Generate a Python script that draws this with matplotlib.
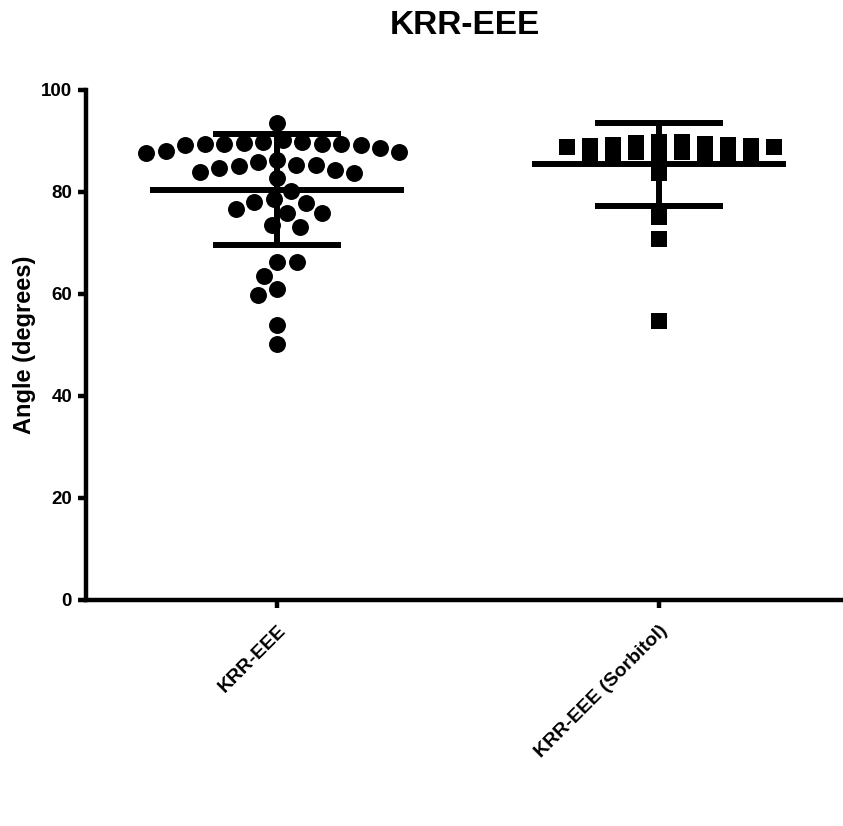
import numpy as np
import matplotlib
matplotlib.use("Agg")
import matplotlib.pyplot as plt

plt.rcParams['font.family'] = ['Liberation Sans', 'DejaVu Sans']

title = "KRR-EEE"
ylabel = "Angle (degrees)"
categories = ["KRR-EEE", "KRR-EEE (Sorbitol)"]
yticks = [0, 20, 40, 60, 80, 100]

krr_eee = [93.5,
           89.9, 89.7, 89.5, 89.5, 89.2, 89.2, 89.5, 89.5, 89.9, 90.1,
           88.1, 87.7, 87.8, 88.7,
           85.8, 85.2, 84.8, 84.0, 82.7, 83.8, 84.3, 85.0, 85.3, 86.3,
           80.2,
           77.9, 78.6, 78.0,
           75.9, 75.8, 76.7,
           73.5, 73.2,
           66.2, 66.2, 63.6,
           61.0, 59.9,
           54.0, 50.2]

krr_eee_sorb = [88.8, 89.8, 87.8, 89.5, 87.8, 89.3, 87.6, 89.3, 87.6, 88.8,
                83.7, 89.0, 85.8, 89.0, 87.6, 89.7, 87.6, 87.7, 89.9, 88.6,
                75.0, 70.8, 54.7]

W, H, DPI = 843, 826, 100
fig = plt.figure(figsize=(W / DPI, H / DPI), dpi=DPI)
left_px, right_px, top_px, bot_px = 86, 850, 90, 600
ax = fig.add_axes([left_px / W, 1 - bot_px / H, (right_px - left_px) / W, (bot_px - top_px) / H])
ax.set_xlim(-0.5, 1.5)
ax.set_ylim(0, 100)

px_per_unit = (bot_px - top_px) / 100.0
px_per_cat = (right_px - left_px) / 2.0


def swarm(vals, w, h, rect):
    """Greedy scatter layout in pixels; clash region is a w x h ellipse or rectangle."""
    vals = np.asarray(vals, float)
    order = np.argsort(-vals, kind="stable")
    placed = []
    offs = np.zeros(len(vals))
    grid = np.arange(-300, 300.5, 0.5)

    def clash(c, y, px, py):
        if rect:
            return abs(c - px) < w and abs(y - py) < h
        return ((c - px) / w) ** 2 + ((y - py) / h) ** 2 < 1

    for k, i in enumerate(order):
        y = vals[i] * px_per_unit
        sgn = 1 if k % 2 == 0 else -1
        cands = sorted(grid, key=lambda c: (abs(c), sgn * c))
        for c in cands:
            if not any(clash(c, y, px, py) for px, py in placed):
                break
        offs[i] = c
        placed.append((c, y))
    return offs / px_per_cat


groups = [krr_eee, krr_eee_sorb]
markers = ['o', 's']
layout = [(19.5, 18.0, False), (23.0, 6.5, True)]
msize = 12.2
for gi, (vals, m, (ww, hh, rr)) in enumerate(zip(groups, markers, layout)):
    xo = swarm(vals, ww, hh, rr)
    ax.plot(gi + xo, vals, linestyle='none', marker=m, markersize=msize,
            color='black', markeredgewidth=0, zorder=3)
    mean = np.mean(vals)
    sd = np.std(vals, ddof=1)
    lw = 4.3
    ax.plot([gi - 0.333, gi + 0.333], [mean, mean], color='black', lw=lw, solid_capstyle='butt', zorder=4)
    ax.plot([gi, gi], [mean - sd, mean + sd], color='black', lw=lw, solid_capstyle='butt', zorder=4)
    for v in (mean - sd, mean + sd):
        ax.plot([gi - 0.167, gi + 0.167], [v, v], color='black', lw=lw, solid_capstyle='butt', zorder=4)

for s in ('top', 'right'):
    ax.spines[s].set_visible(False)
for s in ('left', 'bottom'):
    ax.spines[s].set_linewidth(3.2)
    ax.spines[s].set_zorder(5)

ax.set_yticks(yticks)
ax.set_yticklabels([str(t) for t in yticks], fontsize=13.5, fontweight='bold')
ax.set_xticks([0, 1])
ax.set_xticklabels(categories, rotation=45, ha='right', rotation_mode='anchor',
                   fontsize=14, fontweight='bold')
ax.tick_params(axis='both', direction='out', length=6, width=3.2)
ax.tick_params(axis='y', pad=4)
ax.tick_params(axis='x', pad=10)

ax.set_ylabel(ylabel, fontsize=17, fontweight='bold')
ax.yaxis.set_label_coords((36 - left_px) / (right_px - left_px), 0.5)
fig.text(465 / W, 1 - 25 / H, title, ha='center', va='center', fontsize=24, fontweight='bold')

fig.savefig("out.png", dpi=DPI)
